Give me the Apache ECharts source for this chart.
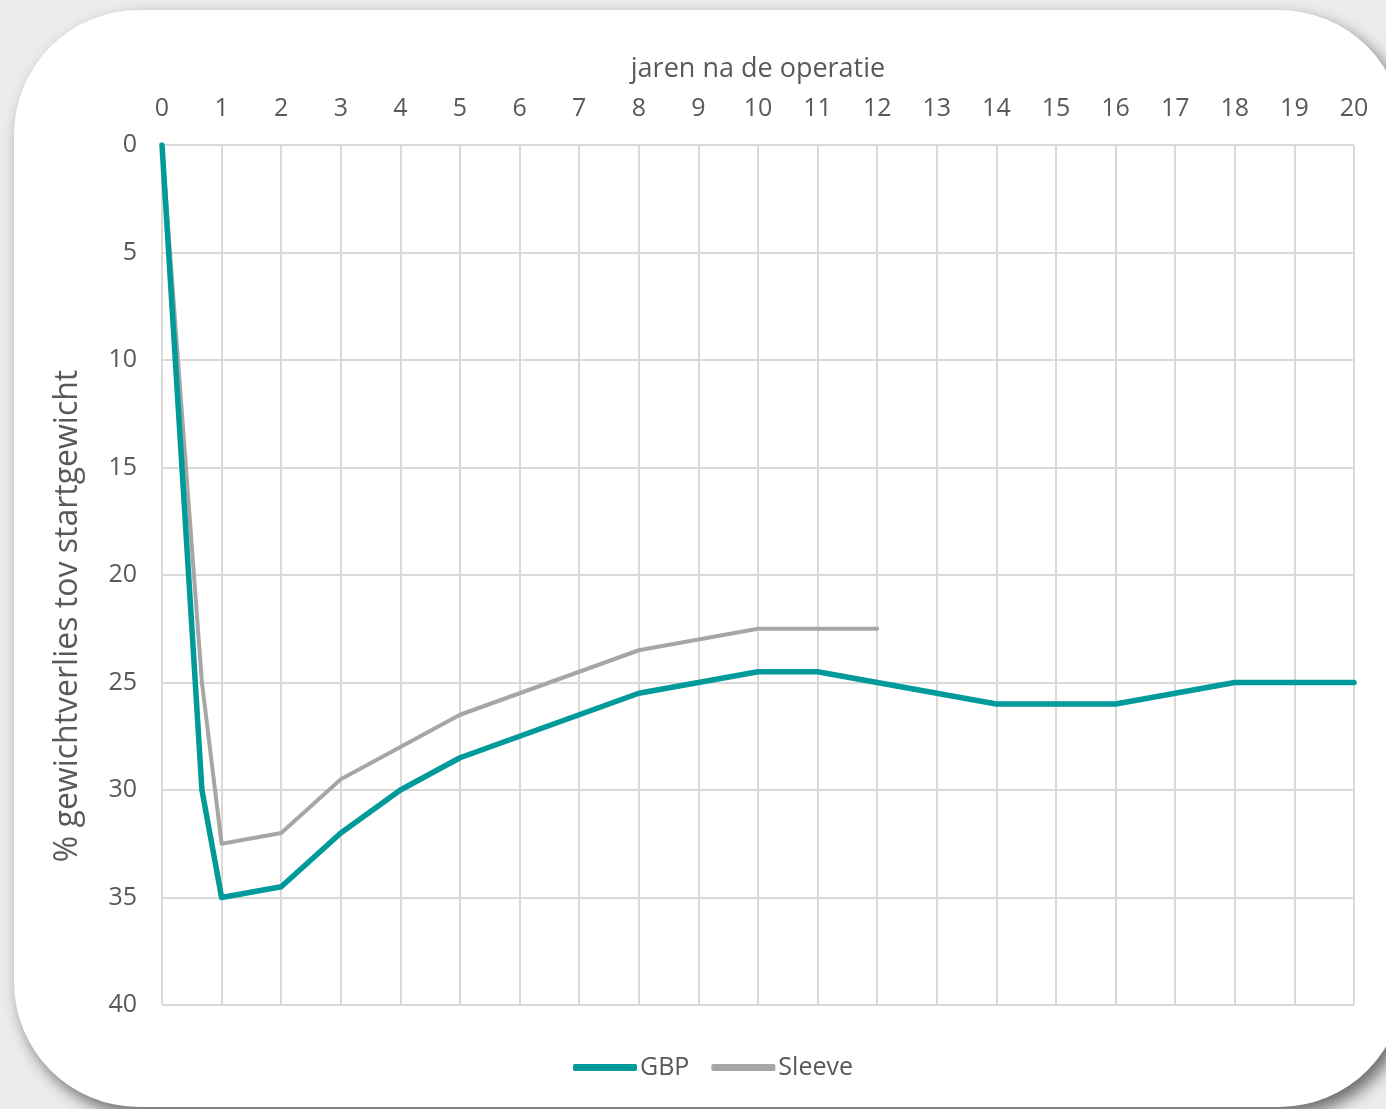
<!DOCTYPE html>
<html>
<head>
<meta charset="utf-8">
<script src="https://cdn.jsdelivr.net/npm/echarts@6/dist/echarts.min.js"></script>
<style>
  html, body { margin: 0; padding: 0; width: 1386px; height: 1109px; overflow: hidden; background: #ececec; }
  #card { position: absolute; left: 14px; top: 10px; width: 1390px; height: 1097px; background: #fff;
          border-radius: 125px; box-shadow: 6px 8px 16px rgba(0,0,0,0.55); }
  #chart { position: absolute; left: 0; top: 0; width: 1386px; height: 1109px; }
</style>
</head>
<body>
<div id="card"></div>
<div id="chart"></div>
<script>
// Weight loss after surgery (% of starting weight) per year after the operation
const gbpYears    = [0, 0.67, 1, 2, 3, 4, 5, 6, 7, 8, 9, 10, 11, 12, 13, 14, 15, 16, 17, 18, 19, 20];
const gbpValues   = [0, 30, 35, 34.5, 32, 30, 28.5, 27.5, 26.5, 25.5, 25, 24.5, 24.5, 25, 25.5, 26, 26, 26, 25.5, 25, 25, 25];
const sleeveYears  = [0, 0.67, 1, 2, 3, 4, 5, 6, 7, 8, 9, 10, 11, 12];
const sleeveValues = [0, 25, 32.5, 32, 29.5, 28, 26.5, 25.5, 24.5, 23.5, 23, 22.5, 22.5, 22.5];

const xTitle = 'jaren na de operatie';
const yTitle = '% gewichtverlies tov startgewicht';

const FONT = '"Open Sans", "Noto Sans", sans-serif';
const TXT = '#595959';
const GRIDC = '#d9d9d9';

const pairs = (xs, ys) => xs.map((x, i) => [x, ys[i]]);

const chart = echarts.init(document.getElementById('chart'), null, { renderer: 'canvas' });
chart.setOption({
  backgroundColor: 'transparent',
  animation: false,
  textStyle: { fontFamily: FONT },
  grid: { left: 162, right: 32, top: 145, bottom: 104, containLabel: false },
  xAxis: {
    type: 'value', position: 'top', min: 0, max: 20, interval: 1,
    name: xTitle, nameLocation: 'middle', nameGap: 62,
    nameTextStyle: { color: TXT, fontSize: 27, fontFamily: FONT },
    axisLine: { show: false }, axisTick: { show: false },
    axisLabel: { color: TXT, fontSize: 25, margin: 24, fontFamily: FONT },
    splitLine: { show: true, lineStyle: { color: GRIDC, width: 2 } }
  },
  yAxis: {
    type: 'value', inverse: true, min: 0, max: 40, interval: 5,
    axisLine: { show: false }, axisTick: { show: false },
    axisLabel: { color: TXT, fontSize: 25, margin: 25, fontFamily: FONT },
    splitLine: { show: true, lineStyle: { color: GRIDC, width: 2 } }
  },
  legend: {
    bottom: 24, left: 568, itemGap: 22, itemWidth: 64, itemHeight: 7,
    icon: 'roundRect', textStyle: { color: TXT, fontSize: 25, fontFamily: FONT, padding: [0, 0, 0, -2] },
    data: ['GBP', 'Sleeve']
  },
  graphic: [{
    type: 'text', x: 68, y: 616, rotation: Math.PI / 2,
    style: { text: yTitle, fill: TXT, font: '32px ' + FONT, align: 'center', verticalAlign: 'middle' }
  }],
  series: [
    {
      name: 'GBP', type: 'line', data: pairs(gbpYears, gbpValues),
      showSymbol: false, symbol: 'none', color: '#009a9a',
      lineStyle: { color: '#009a9a', width: 5.5, cap: 'round', join: 'round' }, z: 3
    },
    {
      name: 'Sleeve', type: 'line', data: pairs(sleeveYears, sleeveValues),
      showSymbol: false, symbol: 'none', color: '#a6a6a6',
      lineStyle: { color: '#a6a6a6', width: 4, cap: 'round', join: 'round' }, z: 2
    }
  ]
});
</script>
</body>
</html>
